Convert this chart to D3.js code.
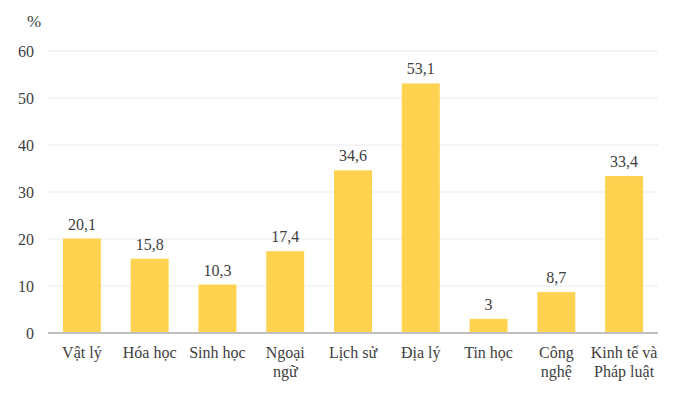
<!DOCTYPE html>
<html><head><meta charset="utf-8">
<script src="https://cdn.jsdelivr.net/npm/d3@7/dist/d3.min.js"></script>
<style>body{margin:0;background:#fff}</style>
</head><body>
<svg id="c" width="674" height="395"></svg>
<script>
const categories = ["Vật lý","Hóa học","Sinh học","Ngoại ngữ","Lịch sử","Địa lý","Tin học","Công nghệ","Kinh tế và Pháp luật"];
const categoryLines = [["Vật lý"],["Hóa học"],["Sinh học"],["Ngoại","ngữ"],["Lịch sử"],["Địa lý"],["Tin học"],["Công","nghệ"],["Kinh tế và","Pháp luật"]];
const values = [20.1,15.8,10.3,17.4,34.6,53.1,3,8.7,33.4];
const valueLabels = ["20,1","15,8","10,3","17,4","34,6","53,1","3","8,7","33,4"];
const yTicks = [0,10,20,30,40,50,60];
const unitLabel = "%";

const svg = d3.select("#c");
const textColor = "#404040";
const fontFam = "Liberation Serif, DejaVu Serif, serif";
const mLeft = 48, mRight = 658, mTop = 51, mBottom = 333;
const x = d3.scaleBand().domain(categories).range([mLeft, mRight]).paddingInner(0.44).paddingOuter(0.22);
const y = d3.scaleLinear().domain([0,60]).range([mBottom, mTop]);

// gridlines
svg.append("g").selectAll("line").data(yTicks.filter(t=>t>0)).join("line")
  .attr("x1", mLeft).attr("x2", mRight)
  .attr("y1", d=>y(d)).attr("y2", d=>y(d))
  .attr("stroke", "#ebebeb").attr("stroke-width", 1);

// y axis labels
const yAxis = d3.axisLeft(y).tickValues(yTicks).tickSize(0).tickPadding(14).tickFormat(d3.format("d"));
const ya = svg.append("g").attr("transform", `translate(${mLeft},0)`).call(yAxis);
ya.select(".domain").remove();
ya.attr("font-family", fontFam);
ya.selectAll("text").style("font-family", fontFam).attr("font-size", 16).attr("fill", textColor);

svg.append("text").attr("x", 34).attr("y", 27).attr("text-anchor","middle")
  .style("font-family", fontFam).attr("font-size", 17).attr("fill", textColor).text(unitLabel);

// bars
svg.append("g").selectAll("rect").data(values).join("rect")
  .attr("x", (d,i)=>x(categories[i]))
  .attr("width", x.bandwidth())
  .attr("y", d=>y(d))
  .attr("height", d=>y(0)-y(d))
  .attr("fill", "#FFD24F");

// value labels
svg.append("g").selectAll("text").data(values).join("text")
  .attr("x", (d,i)=>x(categories[i]) + x.bandwidth()/2)
  .attr("y", d=>y(d) - 9)
  .attr("text-anchor","middle")
  .style("font-family", fontFam).attr("font-size", 16).attr("fill", textColor)
  .text((d,i)=>valueLabels[i]);

// baseline
svg.append("line").attr("x1", mLeft).attr("x2", mRight).attr("y1", y(0)).attr("y2", y(0))
  .attr("stroke", "#bfbfbf").attr("stroke-width", 2);

// category labels
const cg = svg.append("g").selectAll("text").data(categories).join("text")
  .attr("x", d=>x(d) + x.bandwidth()/2)
  .attr("y", 358)
  .attr("text-anchor","middle")
  .style("font-family", fontFam).attr("font-size", 16).attr("fill", textColor);
cg.each(function(d,i){
  const t = d3.select(this);
  categoryLines[i].forEach((ln,j)=>{
    t.append("tspan").attr("x", x(d)+x.bandwidth()/2).attr("dy", j===0?0:18.5).text(ln);
  });
});
</script>
</body></html>
